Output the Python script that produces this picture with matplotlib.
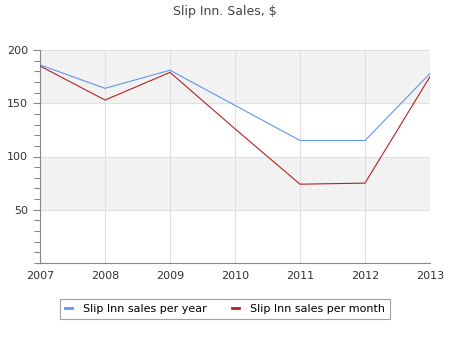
import matplotlib
matplotlib.use("Agg")
import matplotlib.pyplot as plt
import numpy as np

years = [2007, 2008, 2009, 2010, 2011, 2012, 2013]
sales_per_year = [186, 164, 181, 148, 115, 115, 178]
sales_per_month = [185, 153, 179, 126, 74, 75, 175]
y_ticks = [50, 100, 150, 200]
bands = [(50, 100), (150, 200)]

plt.rcParams['font.family'] = ['DejaVu Sans']

fig = plt.figure(figsize=(4.5, 3.5), dpi=100)
ax = fig.add_axes([40 / 450, 87 / 350, 390 / 450, 213 / 350])

for lo, hi in bands:
    ax.axhspan(lo, hi, color='#f2f2f2', zorder=0, lw=0)

ax.plot(years, sales_per_year, color='#6495ed', lw=0.8, label='Slip Inn sales per year', zorder=3)
ax.plot(years, sales_per_month, color='#b22222', lw=0.8, label='Slip Inn sales per month', zorder=3)

ax.set_xlim(2007, 2013)
ax.set_ylim(0, 200)
ax.set_xticks(years)
ax.set_yticks(y_ticks)
ax.set_yticks(np.arange(0, 201, 10), minor=True)
ax.grid(True, color='#e0e0e0', lw=0.8, zorder=1)
ax.set_axisbelow(True)

for s in ['top', 'right']:
    ax.spines[s].set_visible(False)
for s in ['left', 'bottom']:
    ax.spines[s].set_color('#888888')
    ax.spines[s].set_linewidth(0.8)

ax.tick_params(axis='x', length=0, labelsize=8, colors='#333333', pad=6)
ax.tick_params(axis='y', which='major', length=5, width=0.8, color='#888888', labelsize=8, labelcolor='#333333')
ax.tick_params(axis='y', which='minor', length=4, width=0.8, color='#888888')

fig.text(0.5, 1 - 12 / 350, 'Slip Inn. Sales, $', ha='center', va='center', fontsize=9, color='#444444')

leg = fig.legend(loc='center', bbox_to_anchor=(0.5, 1 - 308.5 / 350), ncol=2, fontsize=8,
                 frameon=True, fancybox=False, handlelength=0.7, columnspacing=2.2,
                 borderpad=0.45, handletextpad=1.0)
leg.get_frame().set_edgecolor('#888888')
leg.get_frame().set_linewidth(0.8)
for line in leg.get_lines():
    line.set_linewidth(2)

fig.savefig('out.png', dpi=100)
